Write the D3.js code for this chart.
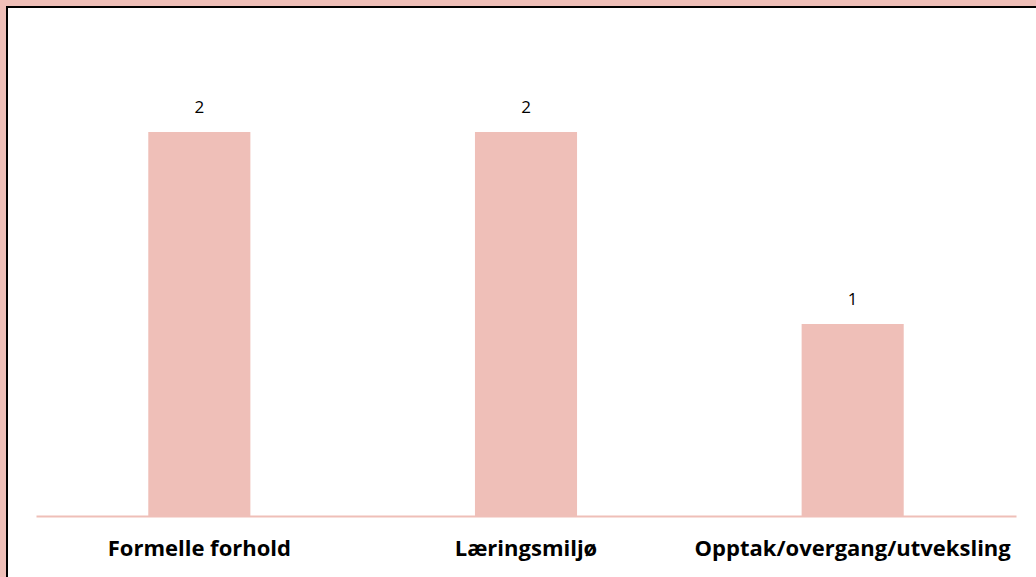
<!DOCTYPE html>
<html>
<head>
<meta charset="utf-8">
<script src="https://cdn.jsdelivr.net/npm/d3@7"></script>
<style>
  html, body { margin: 0; padding: 0; background: #fff; }
  svg { display: block; }
</style>
</head>
<body>
<svg id="chart" width="1036" height="577"></svg>
<script>
const categories = ["Formelle forhold", "Læringsmiljø", "Opptak/overgang/utveksling"];
const values = [2, 2, 1];

const W = 1036, H = 577;
const pink = "#efbfb8";
const svg = d3.select("#chart");

// outer pink frame and white panel with black border
svg.append("rect").attr("x", 0).attr("y", 0).attr("width", W).attr("height", H).attr("fill", pink);
svg.append("rect").attr("x", 7).attr("y", 7).attr("width", W + 20).attr("height", H + 20)
  .attr("fill", "#fff").attr("stroke", "#000").attr("stroke-width", 2);

const x = d3.scaleBand().domain(categories).range([36, 1016])
  .paddingInner(0.6875).paddingOuter(0.34375);
const y = d3.scaleLinear().domain([0, 2.5]).range([516, 36]);

svg.selectAll("rect.bar").data(categories).enter().append("rect")
  .attr("class", "bar")
  .attr("x", d => x(d))
  .attr("width", x.bandwidth())
  .attr("y", (d, i) => y(values[i]))
  .attr("height", (d, i) => y(0) - y(values[i]))
  .attr("fill", pink);

// axis
const xAxis = d3.axisBottom(x).tickSize(0).tickPadding(0).tickSizeOuter(0);
const gx = svg.append("g").attr("transform", `translate(0,${y(0)})`).call(xAxis);
gx.select(".domain").attr("stroke", pink).attr("stroke-width", 2);
gx.selectAll(".tick text")
  .attr("dy", null)
  .attr("y", 40)
  .attr("font-family", "'Open Sans', sans-serif")
  .attr("font-weight", "bold")
  .attr("font-size", 22)
  .attr("fill", "#000");

// value labels
svg.selectAll("text.val").data(categories).enter().append("text")
  .attr("class", "val")
  .attr("x", d => x(d) + x.bandwidth() / 2)
  .attr("y", (d, i) => y(values[i]) - 19)
  .attr("text-anchor", "middle")
  .attr("font-family", "'Open Sans', sans-serif")
  .attr("font-size", 17)
  .attr("fill", "#000")
  .text((d, i) => values[i]);
</script>
</body>
</html>
